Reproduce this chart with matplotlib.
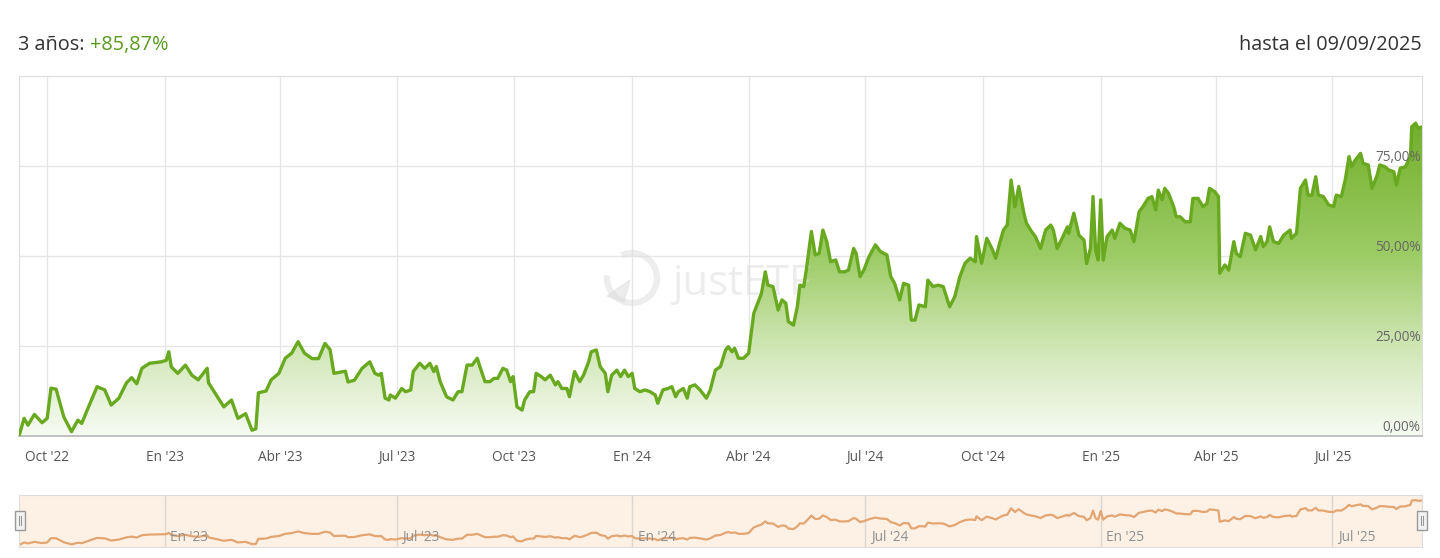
import matplotlib
matplotlib.use('Agg')
import matplotlib.pyplot as plt
import matplotlib.dates as mdates
from matplotlib.colors import LinearSegmentedColormap
from matplotlib.patches import Arc, Polygon, Rectangle
import numpy as np
import pandas as pd

plt.rcParams['font.family'] = ['Open Sans', 'DejaVu Sans']

# performance since 09/09/2022, in % (day offset, value)
start = pd.Timestamp('2022-09-09')
days = [0, 4, 7, 12, 18, 22, 25, 29, 35, 41, 46, 49, 54, 61, 67, 72, 78, 84, 88, 92,
        96, 102, 111, 115, 117, 119, 124, 130, 135, 140, 147, 148, 153, 160, 166, 171, 177, 182, 185, 187,
        193, 197, 203, 208, 213, 218, 223, 229, 234, 239, 243, 246, 255, 257, 262, 268, 274,
        278, 281, 283, 286, 289, 290, 294, 299, 302, 306, 308, 313, 317, 321, 324, 326, 329, 334, 339, 343,
        346, 350, 354, 358, 360, 364, 368, 371, 374, 378, 381, 384, 386, 389, 393, 395, 399, 402, 404, 408,
        411, 415, 419, 421, 424, 428, 430, 434, 438, 441, 445, 447, 451, 454, 458, 460, 463, 467, 470, 473,
        476, 479, 481, 485, 489, 493, 497, 499, 503, 507, 510, 513, 515, 519, 522, 524, 528, 532, 537, 540, 544,
        548, 552, 554, 557, 559, 562, 566, 570, 574, 578, 580, 583, 585, 589, 593, 596, 599, 601, 605, 608,
        610, 613, 615, 619, 622, 625, 628, 631, 634, 638, 641, 645, 648, 652, 654, 657, 660, 664, 669, 673,
        678, 681, 684, 688, 691, 695, 697, 700, 703, 708, 710, 714, 718, 722, 727, 731, 735, 739, 743, 747,
        748, 752, 756, 760, 763, 766, 769, 772, 775, 778, 781, 785, 787, 791, 794, 798, 802, 806, 808, 811,
        815, 819, 820, 824,
        828, 832, 834, 837, 839, 841, 843, 845, 847, 850, 854, 856, 860, 864, 868, 871, 875, 878, 882, 885,
        888, 890, 893, 895, 898, 902, 904, 907, 911, 915, 917, 921, 925, 928, 930, 934, 937, 938, 942, 945,
        949, 951, 954, 958, 962, 966, 970, 972, 975, 977, 980, 984, 988, 993, 994, 998, 1001, 1005, 1007, 1010,
        1013, 1015, 1019, 1023, 1027, 1029, 1033, 1036, 1039, 1041, 1044, 1048, 1050, 1054, 1057, 1061, 1063,
        1067, 1070, 1074, 1076, 1079, 1083, 1087, 1088, 1091, 1093, 1096]
perf = [0.0, 4.9, 3.0, 6.0, 3.7, 4.9, 13.3, 13.0, 5.3, 1.2, 4.4, 3.5, 7.8, 13.7, 12.8, 8.6, 10.5, 14.8, 16.2, 14.5,
        18.8, 20.2, 20.6, 21.0, 23.4, 19.2, 17.4, 19.7, 16.9, 15.6, 18.8, 14.8, 12.0, 8.1, 10.0, 4.9, 6.2, 1.6, 2.0, 12.0,
        12.5, 15.6, 17.4, 21.6, 23.0, 26.2, 23.0, 21.5, 21.5, 25.7, 24.0, 17.4, 18.0, 15.0, 15.5, 18.8, 20.6,
        17.4, 16.9, 17.4, 10.5, 10.0, 11.4, 10.5, 13.2, 12.3, 12.8, 17.9, 20.2, 18.8, 20.2, 17.9, 19.3, 15.1, 10.9, 10.0, 12.3,
        12.3, 19.7, 19.7, 21.6, 19.3, 15.1, 15.1, 16.0, 16.0, 18.8, 18.3, 15.1, 16.5, 8.1, 7.2, 10.0, 12.3, 12.3, 17.4, 16.5,
        15.6, 16.9, 14.2, 15.1, 13.2, 13.2, 10.9, 17.9, 15.1, 16.9, 20.6, 23.4, 23.9, 19.3, 17.4, 12.3, 16.9, 18.3, 16.5, 18.3,
        16.5, 17.4, 13.2, 12.3, 12.8, 12.3, 11.4, 9.1, 12.8, 13.2, 13.7, 10.9, 12.3, 13.2, 10.5, 13.7, 14.2, 12.8, 10.5, 12.8, 18.3,
        19.3, 23.9, 24.8, 23.4, 24.4, 21.6, 21.6, 23.0, 34.1, 37.8, 39.6, 45.6, 41.9, 41.5, 35.0, 37.8, 36.9, 31.8, 30.8, 35.9,
        41.9, 41.5, 46.1, 56.8, 50.3, 50.7, 57.2, 54.0, 48.4, 48.9, 45.6, 45.6, 46.1, 52.1, 50.7, 44.3, 46.1, 49.8, 53.1, 51.2,
        50.3, 44.3, 42.4, 37.8, 42.4, 41.9, 32.2, 32.2, 36.4, 35.9, 43.3, 41.5, 41.9, 41.5, 35.9, 38.7, 44.3, 48.0, 49.4, 48.4,
        55.4, 48.0, 54.9, 52.1, 49.4, 53.5, 57.2, 58.6, 71.1, 63.7, 69.3, 61.9, 59.1, 56.8, 55.4, 52.1, 57.2, 58.6, 57.2, 52.1,
        55.0, 58.1, 56.3, 61.9,
        55.8, 54.4, 47.9, 52.1, 66.5, 51.7, 48.9, 65.6, 48.9, 55.4, 57.2, 54.9, 59.1, 57.7, 57.2, 54.0, 62.3, 63.7, 66.0, 66.5,
        62.8, 68.3, 65.6, 68.8, 67.4, 63.7, 60.9, 60.9, 59.5, 59.5, 66.0, 66.0, 63.7, 64.6, 68.8, 67.9, 66.5, 45.2, 47.5, 46.1,
        54.0, 50.7, 49.8, 56.3, 55.8, 51.7, 55.4, 52.6, 54.0, 58.1, 54.0, 53.5, 55.8, 57.2, 54.9, 56.3, 68.8, 71.1, 66.9, 66.9,
        72.0, 66.9, 66.5, 64.2, 63.7, 66.9, 66.5, 71.1, 77.6, 74.8, 76.7, 78.5, 75.7, 75.3, 68.8, 72.5, 75.3,
        74.8, 73.9, 73.4, 69.7, 74.4, 74.8, 77.6, 85.9, 86.9, 85.5, 85.87]

quarter_labels = ["Oct '22", "En '23", "Abr '23", "Jul '23", "Oct '23", "En '24",
                  "Abr '24", "Jul '24", "Oct '24", "En '25", "Abr '25", "Jul '25"]
nav_labels = ["En '23", "Jul '23", "En '24", "Jul '24", "En '25", "Jul '25"]
y_ticks = [0, 25, 50, 75]
period_label = '3 años: '
total_return = '+85,87%'
end_label = 'hasta el 09/09/2025'

dates = start + pd.to_timedelta(days, unit='D')
x = mdates.date2num(dates)
quarters = mdates.date2num(pd.date_range('2022-10-01', periods=len(quarter_labels), freq='QS'))
halves = mdates.date2num(pd.date_range('2023-01-01', periods=len(nav_labels), freq='6MS'))

W, H = 1440, 558
fig = plt.figure(figsize=(W / 100, H / 100), dpi=100)

# main chart
ax = fig.add_axes([19 / W, 1 - 436 / H, 1403 / W, 360 / H])
cmap = LinearSegmentedColormap.from_list('fill', [(0, '#f7fbf3'), (0.25, '#cfe6b4'), (0.5, '#9dcc66'),
                                                  (0.75, '#80b93e'), (1, '#64a41c')])
grad = np.linspace(0, 1, 256).reshape(-1, 1)
im = ax.imshow(grad, aspect='auto', cmap=cmap, extent=[x[0], x[-1], 0, 100], origin='lower', zorder=1)
area = ax.fill_between(x, perf, 0, color='none', lw=0)
im.set_clip_path(area.get_paths()[0], transform=ax.transData)
ax.plot(x, perf, color='#68a91f', lw=2.4, zorder=3, solid_joinstyle='round')

# watermark
ax.text(672 / W, 1 - 295 / H, 'justETF', transform=fig.transFigure, fontsize=30, color='#dcdcdc',
        alpha=0.5, va='baseline', ha='left', zorder=2)
ax.add_patch(Arc((632 / W, 1 - 278 / H), 50 / W, 50 / H, theta1=165, theta2=460, lw=4.5,
                 color='#dcdcdc', alpha=0.5, transform=fig.transFigure, zorder=2))
ax.add_patch(Polygon([(607 / W, 1 - 296 / H), (630 / W, 1 - 280 / H), (624 / W, 1 - 302 / H)],
                     closed=True, color='#dcdcdc', alpha=0.5, transform=fig.transFigure, zorder=2))

ax.set_xlim(x[0], x[-1])
ax.set_ylim(0, 100)
ax.set_xticks(quarters)
ax.set_xticklabels(quarter_labels, fontsize=9.8, color='#555555')
ax.set_yticks(y_ticks[1:])
ax.set_yticklabels([])
ax.tick_params(length=0, pad=10)
ax.grid(True, color='#e6e6e6', lw=1, zorder=0)
ax.set_axisbelow(True)
for side in ['top', 'left', 'right']:
    ax.spines[side].set_color('#dddddd')
ax.spines['bottom'].set_color('#bbbbbb')
ax.spines['bottom'].set_linewidth(1.3)
for v in y_ticks:
    ax.annotate(f'{v:.2f}'.replace('.', ',') + '%', xy=(1, v), xycoords=('axes fraction', 'data'),
                xytext=(-1, 1), textcoords='offset points', ha='right', va='bottom',
                fontsize=9.8, color='#666666', zorder=4)

# header
t1 = fig.text(18 / W, 1 - 45 / H, period_label, fontsize=14.3, color='#333333', va='center', ha='left')
ax.annotate(total_return, xy=(1, 0), xycoords=t1, va='bottom', ha='left', fontsize=14.3,
            color='#5b9a22', annotation_clip=False)
fig.text(1422 / W, 1 - 45 / H, end_label, fontsize=14.3, color='#333333', va='center', ha='right')

# navigator
nav = fig.add_axes([19 / W, 1 - 547 / H, 1403 / W, 52 / H])
nav.set_facecolor('#fdf1e6')
nav.plot(x, perf, color='#e3a571', lw=1.6)
nav.set_xlim(x[0], x[-1])
nav.set_ylim(-3.9, 96.7)
nav.set_xticks(halves)
nav.set_xticklabels([])
nav.set_yticks([])
nav.tick_params(length=0)
nav.grid(True, axis='x', color='#ddd6ce', lw=1)
nav.set_axisbelow(True)
for s in nav.spines.values():
    s.set_color('#dddddd')
for xv, lab in zip(halves, nav_labels):
    nav.annotate(lab, xy=(xv, 0), xycoords=('data', 'axes fraction'), xytext=(4, 1.5),
                 textcoords='offset points', ha='left', va='bottom', fontsize=9.8, color='#8f8f8f')

# navigator handles
for hx in (15, 1417):
    fig.patches.append(Rectangle((hx / W, 1 - 530 / H), 10 / W, 19 / H, transform=fig.transFigure,
                                 facecolor='#f2f2f2', edgecolor='#999999', lw=1))
    for lx in (hx + 4, hx + 6):
        fig.lines.append(plt.Line2D([lx / W, lx / W], [1 - 525 / H, 1 - 516 / H], transform=fig.transFigure,
                                    color='#999999', lw=0.8))

fig.savefig('out.png', dpi=100, facecolor='white')
